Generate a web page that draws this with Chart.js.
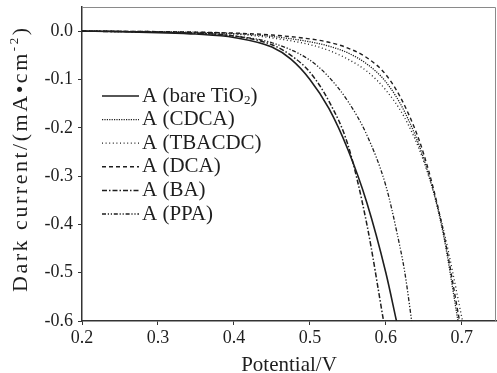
<!DOCTYPE html>
<html>
<head>
<meta charset="utf-8">
<script src="https://cdn.jsdelivr.net/npm/chart.js@4.4.1/dist/chart.umd.min.js"></script>
<style>
  html, body { margin: 0; padding: 0; background: #fff; }
  #wrap { width: 497px; height: 373px; }
</style>
</head>
<body>
<div id="wrap"><canvas id="darkChart"></canvas></div>
<script>
// values (potential in V, dark current in mA/cm2)
const seriesLabels = ["A (bare TiO₂)", "A (CDCA)", "A (TBACDC)", "A (DCA)", "A (BA)", "A (PPA)"];

const bareV = [0.20, 0.25, 0.30, 0.35, 0.40, 0.45, 0.475, 0.50, 0.525, 0.55, 0.575, 0.60, 0.614];
const bareI = [0, -0.001, -0.003, -0.006, -0.013, -0.033, -0.058, -0.10, -0.16, -0.245, -0.355, -0.50, -0.60];

const cdcaV = [0.20, 0.30, 0.40, 0.45, 0.50, 0.525, 0.55, 0.575, 0.60, 0.625, 0.65, 0.675, 0.695];
const cdcaI = [0, -0.001, -0.005, -0.011, -0.022, -0.031, -0.045, -0.068, -0.105, -0.168, -0.265, -0.415, -0.60];

const tbacdcV = [0.20, 0.30, 0.40, 0.45, 0.50, 0.525, 0.55, 0.575, 0.60, 0.625, 0.65, 0.675, 0.701];
const tbacdcI = [0, -0.002, -0.006, -0.014, -0.028, -0.04, -0.058, -0.083, -0.122, -0.18, -0.27, -0.405, -0.60];

const dcaV = [0.20, 0.30, 0.40, 0.45, 0.50, 0.525, 0.55, 0.575, 0.60, 0.625, 0.65, 0.675, 0.697];
const dcaI = [0, -0.001, -0.004, -0.008, -0.016, -0.023, -0.035, -0.055, -0.09, -0.155, -0.255, -0.41, -0.60];

const baV = [0.20, 0.30, 0.35, 0.40, 0.45, 0.475, 0.50, 0.525, 0.55, 0.575, 0.597];
const baI = [0, -0.002, -0.004, -0.01, -0.028, -0.05, -0.085, -0.145, -0.235, -0.40, -0.60];

const ppaV = [0.20, 0.30, 0.35, 0.40, 0.45, 0.50, 0.525, 0.55, 0.575, 0.60, 0.615, 0.625, 0.634];
const ppaI = [0, -0.002, -0.004, -0.01, -0.024, -0.06, -0.095, -0.145, -0.215, -0.32, -0.42, -0.50, -0.60];

const xTicks = [0.2, 0.3, 0.4, 0.5, 0.6, 0.7];
const yTicks = [0.0, -0.1, -0.2, -0.3, -0.4, -0.5, -0.6];

const serif = "'Liberation Serif', 'Times New Roman', serif";
const ink = "#1e1e1e";

function pts(xs, ys) {
  return xs.map(function (x, i) {
    return { x: x, y: ys[i] };
  });
}

function line(label, xs, ys, dash, width) {
  return {
    label: label,
    data: pts(xs, ys),
    borderColor: ink,
    borderWidth: width,
    borderDash: dash,
    pointRadius: 0,
    fill: false,
    cubicInterpolationMode: "monotone",
  };
}

// y title is spread out along the axis like in the original figure
function drawYTitle(ctx, area) {
  const pieces = [
    { t: "Dark current/(mA•cm", size: 22, dy: 0 },
    { t: "-2", size: 13, dy: -9 },
    { t: ")", size: 22, dy: 0 },
  ];
  const glyphs = [];
  let natural = 0;
  pieces.forEach(function (p) {
    ctx.font = p.size + "px " + serif;
    Array.from(p.t).forEach(function (ch) {
      const w = ctx.measureText(ch).width;
      glyphs.push({ ch: ch, w: w, size: p.size, dy: p.dy });
      natural += w;
    });
  });
  const span = 264;
  const gap = Math.max(0, (span - natural) / (glyphs.length - 1));
  ctx.save();
  ctx.translate(27, area.top + 285);
  ctx.rotate(-Math.PI / 2);
  ctx.fillStyle = ink;
  ctx.textBaseline = "alphabetic";
  let x = 0;
  glyphs.forEach(function (g) {
    ctx.font = g.size + "px " + serif;
    ctx.fillText(g.ch, x, g.dy);
    x += g.w + gap;
  });
  ctx.restore();
}

// legend inside the plot + top/right frame
const insideLegend = {
  id: "insideLegend",
  afterDraw(chart) {
    const ctx = chart.ctx;
    const area = chart.chartArea;
    ctx.save();
    ctx.strokeStyle = "#8a8a8a";
    ctx.lineWidth = 1;
    ctx.beginPath();
    ctx.moveTo(area.left, area.top + 0.5);
    ctx.lineTo(area.right - 0.5, area.top + 0.5);
    ctx.lineTo(area.right - 0.5, area.bottom);
    ctx.stroke();

    chart.data.datasets.forEach(function (ds, i) {
      const y = area.top + 89 + i * 23.6;
      const x0 = area.left + 20;
      ctx.strokeStyle = ink;
      ctx.lineWidth = ds.borderWidth;
      ctx.setLineDash(ds.borderDash || []);
      ctx.beginPath();
      ctx.moveTo(x0, y);
      ctx.lineTo(x0 + 37, y);
      ctx.stroke();
      ctx.setLineDash([]);

      ctx.fillStyle = ink;
      ctx.textBaseline = "middle";
      let tx = x0 + 40;
      const parts = ds.label.split("₂");
      parts.forEach(function (p, k) {
        ctx.font = "21px " + serif;
        ctx.fillText(p, tx, y);
        tx += ctx.measureText(p).width;
        if (k < parts.length - 1) {
          ctx.font = "13px " + serif;
          ctx.fillText("2", tx, y + 5);
          tx += ctx.measureText("2").width;
        }
      });
    });
    ctx.restore();
    drawYTitle(ctx, area);
  },
};

function keepTicks(list) {
  return function (scale) {
    scale.ticks = list.map(function (v) {
      return { value: v };
    });
  };
}

const ctx = document.getElementById("darkChart").getContext("2d");
const darkChart = new Chart(ctx, {
  type: "line",
  data: {
    datasets: [
      line(seriesLabels[0], bareV, bareI, [], 1.6),
      line(seriesLabels[1], cdcaV, cdcaI, [1.2, 1.2], 1.3),
      line(seriesLabels[2], tbacdcV, tbacdcI, [1, 2.6], 1.3),
      line(seriesLabels[3], dcaV, dcaI, [4, 3], 1.4),
      line(seriesLabels[4], baV, baI, [5, 2, 1.5, 2], 1.5),
      line(seriesLabels[5], ppaV, ppaI, [4, 1.8, 1.2, 1.8, 1.2, 1.8], 1.3),
    ],
  },
  options: {
    responsive: true,
    maintainAspectRatio: false,
    animation: false,
    layout: { padding: { top: 7, right: 1, left: 0, bottom: 0 } },
    plugins: {
      legend: { display: false },
      tooltip: { enabled: false },
    },
    scales: {
      x: {
        type: "linear",
        min: 0.2,
        max: 0.745,
        afterBuildTicks: keepTicks(xTicks),
        afterFit: function (scale) {
          scale.height = 52;
          scale.paddingLeft = 0;
          scale.paddingRight = 0;
        },
        ticks: {
          color: ink,
          font: { family: serif, size: 18 },
          padding: 2,
          maxRotation: 0,
          callback: function (v) {
            return Number(v).toFixed(1);
          },
        },
        grid: { drawOnChartArea: false, drawTicks: true, tickLength: 4, color: "#333" },
        border: { color: "#333", width: 1.5 },
        title: {
          display: true,
          text: "Potential/V",
          color: ink,
          font: { family: serif, size: 21, lineHeight: 0.75 },
          padding: { top: 0, bottom: 0 },
        },
      },
      y: {
        type: "linear",
        min: -0.6,
        max: 0.05,
        afterBuildTicks: keepTicks(yTicks),
        afterFit: function (scale) {
          scale.width = 82;
          scale.paddingTop = 0;
          scale.paddingBottom = 0;
        },
        ticks: {
          color: ink,
          font: { family: serif, size: 18 },
          padding: 5,
          callback: function (v) {
            return Number(v).toFixed(1);
          },
        },
        grid: { drawOnChartArea: false, drawTicks: true, tickLength: 4, color: "#333" },
        border: { color: "#333", width: 1.5 },
        title: { display: false },
      },
    },
  },
  plugins: [insideLegend],
});
</script>
</body>
</html>
